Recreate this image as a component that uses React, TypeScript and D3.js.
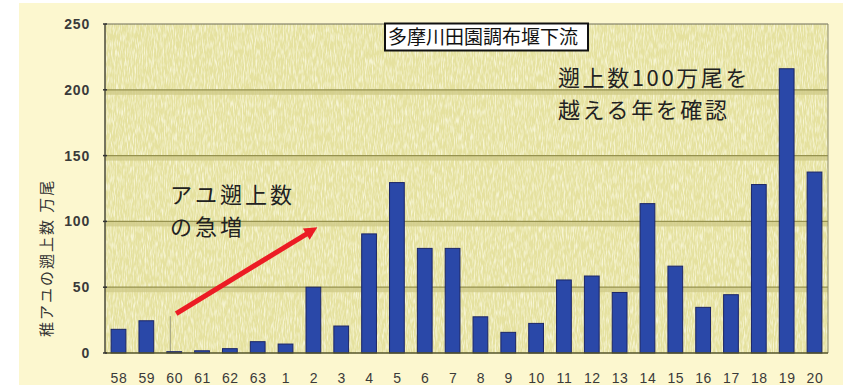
import React from "react";
import * as d3 from "d3";

// 年度ラベル（昭和58年〜平成20年）
const years: string[] = [
  "58", "59", "60", "61", "62", "63", "1", "2", "3", "4", "5", "6", "7", "8",
  "9", "10", "11", "12", "13", "14", "15", "16", "17", "18", "19", "20",
];
// 稚アユの遡上数（万尾）
const counts: number[] = [
  18, 24.5, 1, 1.7, 3.3, 8.6, 6.8, 50, 20.5, 90.5, 129.5, 79.5, 79.5, 27.5,
  15.7, 22.5, 55.5, 58.5, 46, 113.5, 66, 34.7, 44.3, 128, 216, 137.5,
];
const yTicks: number[] = [0, 50, 100, 150, 200, 250];
const gridValues: number[] = [50, 100, 150, 200];

const W = 855;
const H = 390;
const plot = { left: 105, right: 828, top: 24, bottom: 353 };

export default function App() {
  const x = d3
    .scaleBand<string>()
    .domain(years.map((_, i) => `${i}`))
    .range([plot.left, plot.right])
    .paddingInner(0.47)
    .paddingOuter(0.22);
  const y = d3.scaleLinear().domain([0, 250]).range([plot.bottom, plot.top]);
  const bw = x.bandwidth();
  const cx = (i: number) => (x(`${i}`) as number) + bw / 2;

  // 矢印：「60」付近から「2」付近へ
  const a0 = { x: cx(2) + 2, y: y(30) };
  const a1 = { x: cx(7) + 4, y: y(95.5) };
  const ang = Math.atan2(a1.y - a0.y, a1.x - a0.x);
  const headLen = 13;
  const headW = 6.5;
  const shaftEnd = { x: a1.x - Math.cos(ang) * (headLen - 2), y: a1.y - Math.sin(ang) * (headLen - 2) };
  const hb = { x: a1.x - Math.cos(ang) * headLen, y: a1.y - Math.sin(ang) * headLen };
  const head = [
    [a1.x, a1.y],
    [hb.x + Math.sin(ang) * headW, hb.y - Math.cos(ang) * headW],
    [hb.x - Math.sin(ang) * headW, hb.y + Math.cos(ang) * headW],
  ];

  const sans = "'Liberation Sans', Arial, sans-serif";
  const jp = "'Noto Sans CJK JP', sans-serif";

  return (
    <svg
      width={W}
      height={H}
      style={{ position: "absolute", left: 0, top: 0, display: "block" }}
    >
      <defs>
        <filter id="grain" x="0" y="0" width="100%" height="100%">
          <feTurbulence type="fractalNoise" baseFrequency="0.9 0.12" numOctaves="2" seed="4" />
          <feColorMatrix
            type="matrix"
            values="0 0 0 0 0.98  0 0 0 0 0.97  0 0 0 0 0.80  2.6 0 0 0 -1.05"
          />
        </filter>
      </defs>

      <rect x={0} y={0} width={W} height={H} fill="#ffffff" />
      {/* 外枠の背景 */}
      <rect x={19} y={3} width={824} height={382} fill="#fcf7cf" />

      {/* プロット領域 */}
      <rect
        x={plot.left}
        y={plot.top}
        width={plot.right - plot.left}
        height={plot.bottom - plot.top}
        fill="#e5e19f"
      />
      <rect
        x={plot.left}
        y={plot.top}
        width={plot.right - plot.left}
        height={plot.bottom - plot.top}
        filter="url(#grain)"
        opacity={0.75}
      />

      {/* 目盛線 */}
      {gridValues.map((v) => (
        <g key={v}>
          <rect x={plot.left} y={y(v)} width={plot.right - plot.left} height={5} fill="#cfcb88" opacity={0.8} />
          <line x1={plot.left} x2={plot.right} y1={y(v)} y2={y(v)} stroke="#96924f" strokeWidth={1.2} />
        </g>
      ))}

      {/* 区切り線 */}
      <line x1={cx(1) + 24} x2={cx(1) + 24} y1={y(28)} y2={y(0)} stroke="#8a8a70" strokeWidth={0.8} />

      {/* 棒 */}
      {counts.map((v, i) => (
        <rect
          key={i}
          x={x(`${i}`) as number}
          y={y(v)}
          width={bw}
          height={y(0) - y(v)}
          fill="#2a48a8"
          stroke="#1b2566"
          strokeWidth={1}
        />
      ))}

      {/* 軸線 */}
      <line x1={plot.left} x2={plot.right} y1={plot.top} y2={plot.top} stroke="#6e6e5a" strokeWidth={1.2} />
      <line x1={plot.right} x2={plot.right} y1={plot.top} y2={plot.bottom} stroke="#8a8a70" strokeWidth={1} />
      <line x1={plot.left} x2={plot.left} y1={plot.top} y2={plot.bottom} stroke="#4a4a3a" strokeWidth={1.5} />
      <line x1={plot.left} x2={plot.right} y1={plot.bottom} y2={plot.bottom} stroke="#55552a" strokeWidth={1.6} />

      {/* Y目盛 */}
      {yTicks.map((t) => (
        <g key={t}>
          <line x1={plot.left - 2} x2={plot.left + 2} y1={y(t)} y2={y(t)} stroke="#333" strokeWidth={1.5} />
          <text
            x={90}
            y={y(t)}
            dy="0.36em"
            textAnchor="end"
            fontFamily={sans}
            fontSize={14}
            fontWeight="bold"
            letterSpacing={0.8}
            fill="#3a3a3a"
          >
            {t}
          </text>
        </g>
      ))}

      {/* X目盛 */}
      {years.map((c, i) => (
        <text
          key={i}
          x={cx(i) + 0.5}
          y={383}
          textAnchor="middle"
          fontFamily={sans}
          fontSize={14}
          letterSpacing={0.6}
          fill="#3a3a3a"
        >
          {c}
        </text>
      ))}

      {/* Y軸タイトル */}
      <text
        transform="translate(52,337) rotate(-90)"
        fontFamily={jp}
        fontSize={15}
        letterSpacing={2}
        fill="#333"
      >
        稚アユの遡上数 万尾
      </text>

      {/* 地点名 */}
      <rect x={385} y={23.5} width={203} height={27} fill="#ffffff" stroke="#111" strokeWidth={2} />
      <text x={388} y={44} fontFamily={jp} fontSize={19} fill="#111">
        多摩川田園調布堰下流
      </text>

      {/* 注記 */}
      <text fontFamily={jp} fontSize={22} letterSpacing={3} fill="#222">
        <tspan x={170} y={203}>アユ遡上数</tspan>
        <tspan x={170} y={235}>の急増</tspan>
      </text>
      <text fontFamily={jp} fontSize={22} letterSpacing={2.6} fill="#222">
        <tspan x={558} y={86}>遡上数100万尾を</tspan>
        <tspan x={558} y={118}>越える年を確認</tspan>
      </text>

      {/* 矢印 */}
      <line x1={a0.x} y1={a0.y} x2={shaftEnd.x} y2={shaftEnd.y} stroke="#ec1c24" strokeWidth={5} />
      <polygon points={head.map((p) => p.join(",")).join(" ")} fill="#ec1c24" />
    </svg>
  );
}
